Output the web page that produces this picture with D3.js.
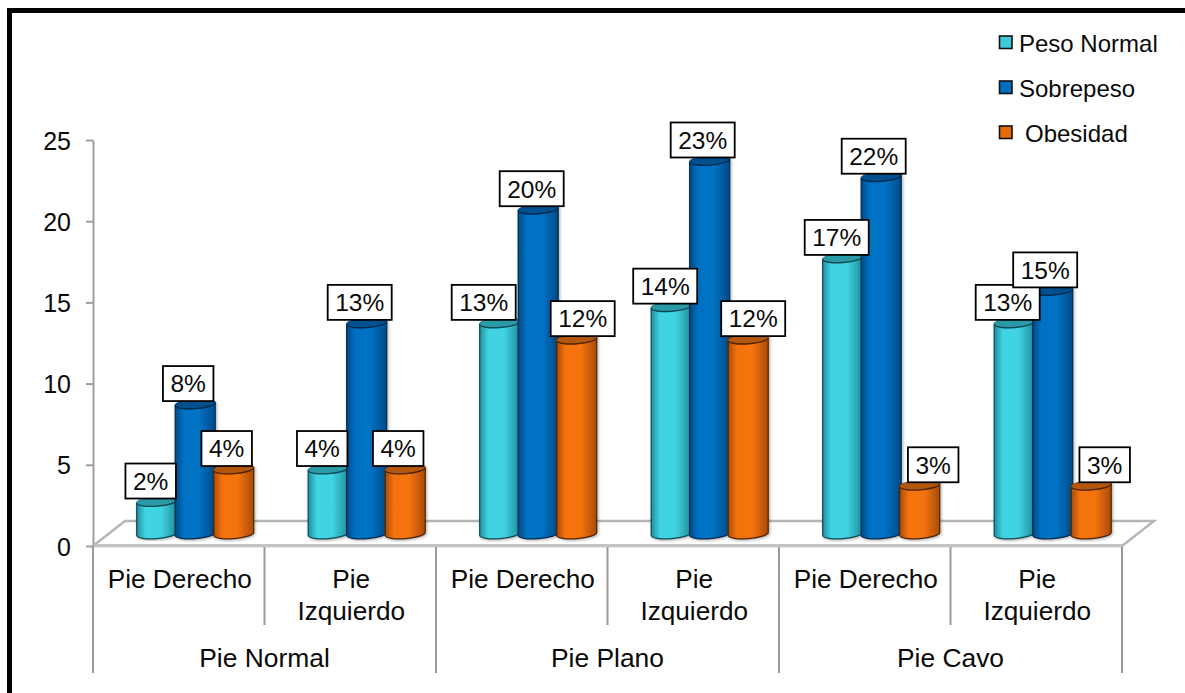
<!DOCTYPE html>
<html>
<head>
<meta charset="utf-8">
<script src="https://cdn.jsdelivr.net/npm/d3@7/dist/d3.min.js"></script>
<style>
  html, body { margin: 0; padding: 0; background: #fff; }
  svg { display: block; }
  text { font-family: "Liberation Sans", Arial, sans-serif; fill: #0a0a0a; }
</style>
</head>
<body>
<svg id="chart" width="1185" height="693"></svg>
<script>
// Foot type study: grouped cylinders by foot shape, side and weight class.
const footTypes = ["Pie Normal", "Pie Plano", "Pie Cavo"];
const sides = [["Pie Derecho"], ["Pie", "Izquierdo"]];
const seriesNames = ["Peso Normal", "Sobrepeso", "Obesidad"];
const pesoNormal = [2, 4, 13, 14, 17, 13];
const sobrepeso = [8, 13, 20, 23, 22, 15];
const obesidad = [4, 4, 12, 12, 3, 3];
const yTicks = [0, 5, 10, 15, 20, 25];

// Sideways nudges that keep neighbouring value boxes from colliding.
const labelShift = [
  [-6, -7, -7], [-6, -7, -7], [-16, -6.5, 6],
  [-6, -7, 5], [-6, -7.5, 13.5], [-6.5, -7.5, 13.5]
];

const palette = [
  { edge: "#1f8f9f", mid: "#41d4e2", cap: "#2a9aa9", line: "#0e4a52", key: "#3fc8d8" },
  { edge: "#004a86", mid: "#0072c4", cap: "#00508f", line: "#002a4d", key: "#0070c0" },
  { edge: "#a94c05", mid: "#f5730e", cap: "#b5560a", line: "#4d2400", key: "#e46c0a" }
];
const values = [pesoNormal, sobrepeso, obesidad];

const svg = d3.select("#chart");
const defs = svg.append("defs");

palette.forEach((c, i) => {
  const g = defs.append("linearGradient").attr("id", "cyl" + i);
  [[0, c.edge], [0.22, c.mid], [0.6, c.mid], [1, c.edge]].forEach(([o, col]) =>
    g.append("stop").attr("offset", o).attr("stop-color", col));
});
const shadow = defs.append("filter").attr("id", "soft")
  .attr("x", "-15%").attr("y", "-5%").attr("width", "130%").attr("height", "110%");
shadow.append("feDropShadow").attr("dx", 1).attr("dy", 1)
  .attr("stdDeviation", 1.4).attr("flood-color", "#000").attr("flood-opacity", 0.35);

// Scales
const y = d3.scaleLinear().domain([0, 25]).range([546, 140]);
const allSides = footTypes.flatMap(f => sides.map((s, i) => f + "|" + i));
const xSide = d3.scaleBand().domain(allSides).range([93, 1122]);
const xFoot = d3.scaleBand().domain(footTypes).range([93, 1122]);
const xBar = d3.scaleBand().domain(seriesNames).range([43.7, 159.2]);

// Depth of the 3D floor: marks sit back from the front edge.
const depthX = 32, depthY = 25, capLift = 12, capRy = 4.6, tilt = 1.5;

// Frame (top and left only)
svg.append("path").attr("d", "M9.5,693V10.5H1185")
  .attr("fill", "none").attr("stroke", "#000").attr("stroke-width", 5);

// Floor
const x0 = xFoot.range()[0], x1 = xFoot.range()[1], y0 = y(0);
svg.append("path")
  .attr("d", `M${x0},${y0}L${x0 + depthX},${y0 - depthY}H${x1 + depthX}L${x1},${y0}Z`)
  .attr("fill", "#fff").attr("stroke", "#b5b5b5").attr("stroke-width", 2.4);
svg.append("line").attr("x1", x0).attr("x2", x1).attr("y1", y0 - 0.5).attr("y2", y0 - 0.5)
  .attr("stroke", "#c4c4c4").attr("stroke-width", 3);

// Value axis
const yAxis = svg.append("g").attr("transform", `translate(${x0},0)`)
  .call(d3.axisLeft(y).tickValues(yTicks).tickSize(7).tickSizeOuter(0).tickPadding(15));
yAxis.selectAll("path,line").attr("stroke", "#a0a0a0").attr("stroke-width", 2);
yAxis.selectAll("text").attr("font-size", 25).attr("dy", "0.36em")
  .attr("font-family", '"Liberation Sans", Arial, sans-serif');

// Multi-level category axis
const catAxis = svg.append("g");
allSides.forEach(k => {
  const bx = xSide(k), [foot, idx] = k.split("|");
  if (+idx === 1) {
    catAxis.append("line").attr("x1", bx).attr("x2", bx).attr("y1", y0 + 1).attr("y2", 625)
      .attr("stroke", "#9a9a9a").attr("stroke-width", 2);
  }
  const lines = sides[+idx];
  const t = catAxis.append("text").attr("text-anchor", "middle").attr("font-size", 26.2);
  lines.forEach((ln, j) => t.append("tspan")
    .attr("x", bx + xSide.bandwidth() / 2 + 1).attr("y", 588 + j * 31.5).text(ln));
});
footTypes.concat([null]).forEach(f => {
  const lx = f ? xFoot(f) : x1;
  catAxis.append("line").attr("x1", lx).attr("x2", lx).attr("y1", y0 + 1).attr("y2", 673)
    .attr("stroke", "#9a9a9a").attr("stroke-width", 2);
  if (f) catAxis.append("text").attr("text-anchor", "middle").attr("font-size", 26.4)
    .attr("x", xFoot(f) + xFoot.bandwidth() / 2).attr("y", 667).text(f);
});

// Cylinders
const barW = xBar.bandwidth() + 1.5;
const cylinder = (left, v) => {
  const top = y(v) - capLift, base = y(0) - capLift, r = barW / 2;
  const rot = (-Math.atan2(2 * tilt, barW) * 180 / Math.PI).toFixed(2);
  return {
    body: `M${left},${top + tilt}V${base + tilt}A${r},${capRy} ${rot} 0 0 ${left + barW},${base - tilt}` +
          `V${top - tilt}A${r},${capRy} ${rot} 0 0 ${left},${top + tilt}Z`,
    cap: `M${left},${top + tilt}A${r},${capRy} ${rot} 0 1 ${left + barW},${top - tilt}` +
         `A${r},${capRy} ${rot} 0 1 ${left},${top + tilt}Z`,
    rim: `M${left},${top + tilt}A${r},${capRy} ${rot} 0 0 ${left + barW},${top - tilt}`
  };
};

const bars = svg.append("g");
allSides.forEach((k, gi) => {
  seriesNames.forEach((name, si) => {
    const c = palette[si];
    const geo = cylinder(xSide(k) + xBar(name), values[si][gi]);
    const g = bars.append("g").attr("filter", "url(#soft)");
    g.append("path").attr("d", geo.body).attr("fill", `url(#cyl${si})`)
      .attr("stroke", c.line).attr("stroke-width", 1.2);
    g.append("path").attr("d", geo.cap).attr("fill", c.cap)
      .attr("stroke", c.cap).attr("stroke-width", 0.8);
    g.append("path").attr("d", geo.rim).attr("fill", "none")
      .attr("stroke", c.line).attr("stroke-width", 1.4);
  });
});

// Value boxes, drawn above every cylinder
const labels = svg.append("g");
allSides.forEach((k, gi) => {
  seriesNames.forEach((name, si) => {
    const v = values[si][gi];
    const cx = xSide(k) + xBar(name) + barW / 2 + labelShift[gi][si];
    const w = v >= 10 ? 64 : 50.5, h = 35, bottom = y(v) - 15;
    labels.append("rect").attr("x", cx - w / 2).attr("y", bottom - h).attr("width", w).attr("height", h)
      .attr("fill", "#fff").attr("stroke", "#000").attr("stroke-width", 1.8);
    labels.append("text").attr("text-anchor", "middle").attr("font-size", 24.5)
      .attr("x", cx).attr("y", bottom - h / 2 + 8.8).text(v + "%");
  });
});

// Legend
const legendRow = d3.scaleBand().domain(seriesNames).range([21, 156]);
const legendTextX = [1019, 1019, 1025];
seriesNames.forEach((name, i) => {
  const top = legendRow(name) + 15;
  svg.append("rect").attr("x", 999.5).attr("y", top).attr("width", 12.5).attr("height", 12.5)
    .attr("fill", palette[i].key)
    .attr("stroke", "#111").attr("stroke-width", 1.6);
  svg.append("text").attr("x", legendTextX[i]).attr("y", top + 16).attr("font-size", 24).text(name);
});
</script>
</body>
</html>
